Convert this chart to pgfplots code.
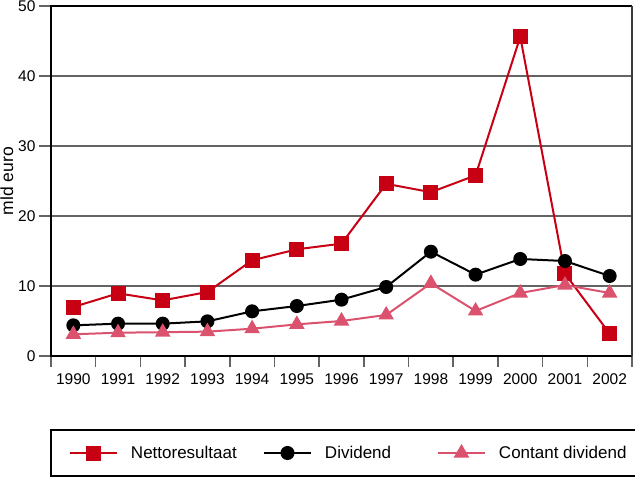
\documentclass[border=0pt]{standalone}
\usepackage{pgfplots}
\pgfplotsset{compat=1.18}
\usepackage{fontspec}
\setmainfont{Liberation Sans}
\definecolor{netred}{RGB}{200,0,20}
\definecolor{cpink}{RGB}{218,82,110}
\definecolor{gridgray}{RGB}{100,100,100}
\begin{document}
\begin{tikzpicture}
\path[use as bounding box] (-51bp,-122bp) rectangle (584bp,356bp);
\begin{axis}[
  at={(0,0)}, anchor=south west,
  scale only axis, width=581bp, height=350bp,
  xmin=-0.5, xmax=12.5, ymin=0, ymax=50,
  clip=false,
  xtick={0,...,12},
  xticklabels={1990,1991,1992,1993,1994,1995,1996,1997,1998,1999,2000,2001,2002},
  minor xtick={-0.5,0.5,...,12.5},
  ytick={0,10,...,50},
  tick align=outside,
  xtick pos=left, ytick pos=left,
  major tick length=12bp, minor tick length=11bp,
  major x tick style={draw=none},
  minor x tick style={gridgray, line width=1.5bp},
  ytick style={gridgray, line width=1.5bp},
  ymajorgrids, grid style={gridgray, line width=1.5bp},
  axis line style={draw=none},
  /pgf/number format/assume math mode=true,
  ticklabel style={font=\fontsize{15.5bp}{18bp}\selectfont},
  xticklabel style={yshift=-2bp},
  every axis y label/.style={at={(axis description cs:-0.0654,0.5)}, rotate=90, anchor=base, font=\fontsize{17.5bp}{20bp}\selectfont},
  ylabel={mld euro},
  legend columns=3,
  legend style={at={(axis description cs:0,0)}, anchor=north west, xshift=-1bp, yshift=-73bp,
    draw=black, line width=2bp, inner xsep=18bp, inner ysep=16bp,
    font=\fontsize{17bp}{20bp}\selectfont, nodes={inner sep=0pt},
    /tikz/every odd column/.style={column sep=13bp},
    /tikz/every even column/.style={column sep=0bp}},
  legend image code/.code={
    \draw[#1, mark=none, line width=2bp] (0bp,0bp) -- (47bp,0bp);
    \draw[#1] plot coordinates {(23.5bp,0bp)};
  },
]
\addplot[netred, line width=2bp, mark=square*, mark size=6.5bp, mark options={solid}] coordinates {
(0,7.0) (1,8.95) (2,7.95) (3,9.14) (4,13.67) (5,15.24) (6,16.05) (7,24.6) (8,23.4) (9,25.8) (10,45.6) (11,11.76) (12,3.2)};
\addlegendentry{\makebox[132bp][l]{Nettoresultaat}}
\addplot[black, line width=2bp, mark=*, mark size=6bp, mark options={solid}] coordinates {
(0,4.38) (1,4.62) (2,4.62) (3,4.95) (4,6.38) (5,7.14) (6,8.05) (7,9.86) (8,14.9) (9,11.62) (10,13.86) (11,13.57) (12,11.43)};
\addlegendentry{\makebox[112bp][l]{Dividend}}
\addplot[cpink, line width=2bp, mark=triangle*, mark size=7bp, mark options={solid}] coordinates {
(0,3.1) (1,3.33) (2,3.4) (3,3.48) (4,3.9) (5,4.52) (6,5.0) (7,5.86) (8,10.38) (9,6.43) (10,9.0) (11,10.14) (12,9.0)};
\addlegendentry{\makebox[126bp][l]{Contant dividend}}
\draw[black, line width=2bp] (rel axis cs:1,1) -- (rel axis cs:0,1) -- (rel axis cs:0,0) -- (rel axis cs:1,0);
\draw[gridgray!60!black, line width=1.5bp] (rel axis cs:1,0) -- (rel axis cs:1,1);
\end{axis}
\end{tikzpicture}
\end{document}
